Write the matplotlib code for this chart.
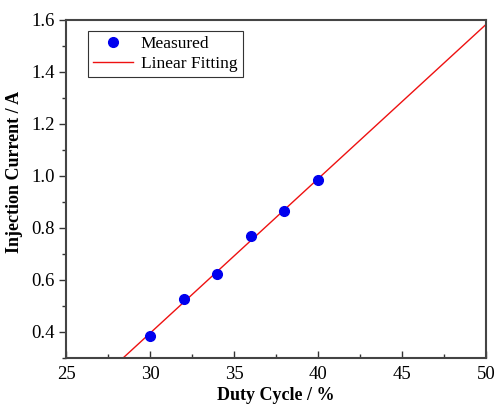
import numpy as np
import matplotlib
matplotlib.use('Agg')
import matplotlib.pyplot as plt
from matplotlib.ticker import MultipleLocator

# measured data
duty_cycle = [30, 32, 34, 36, 38, 40]
current = [0.386, 0.526, 0.623, 0.768, 0.865, 0.985]

plt.rcParams['font.family'] = ['Liberation Serif', 'DejaVu Serif']

# linear fit of the measured points
slope, intercept = np.polyfit(duty_cycle, current, 1)
x_fit = np.linspace(25, 50, 200)
y_fit = slope * x_fit + intercept

fig = plt.figure(figsize=(4.97, 4.07), dpi=100)
ax = fig.add_axes([0.1328, 0.1204, 0.8451, 0.8305])

ax.plot(duty_cycle, current, 'o', color='#0000ee', markersize=7, label='Measured', zorder=3)
ax.plot(x_fit, y_fit, '-', color='#ee1111', linewidth=1.0, label='Linear Fitting', zorder=2)

ax.set_xlim(25, 50)
ax.set_ylim(0.3, 1.6)
ax.xaxis.set_major_locator(MultipleLocator(5))
ax.xaxis.set_minor_locator(MultipleLocator(2.5))
ax.yaxis.set_major_locator(MultipleLocator(0.2))
ax.yaxis.set_minor_locator(MultipleLocator(0.1))
ax.yaxis.set_major_formatter(matplotlib.ticker.FormatStrFormatter('%.1f'))

ax.tick_params(axis='x', which='both', direction='in', top=False, labelsize=13.5, pad=6)
ax.tick_params(axis='y', which='both', direction='out', right=False, labelsize=13.5, pad=3)
ax.tick_params(which='major', length=5, width=1, color='#333333')
ax.tick_params(which='minor', length=3, width=1, color='#333333')

for s in ax.spines.values():
    s.set_linewidth(1.5)
    s.set_color('#444444')

ax.set_xlabel('Duty Cycle / %', fontsize=13, fontweight='bold', labelpad=3)
ax.set_ylabel('Injection Current / A', fontsize=13, fontweight='bold')
ax.yaxis.set_label_coords(-0.102, 0.55)

leg = ax.legend(loc='upper left', bbox_to_anchor=(0.052, 0.967), fontsize=12.5, fancybox=False,
                framealpha=1, edgecolor='#333333', borderpad=0.3, handlelength=2.3,
                handletextpad=0.45, labelspacing=0.2, borderaxespad=0)
leg.get_frame().set_linewidth(0.8)

fig.savefig('out.png', dpi=100)
